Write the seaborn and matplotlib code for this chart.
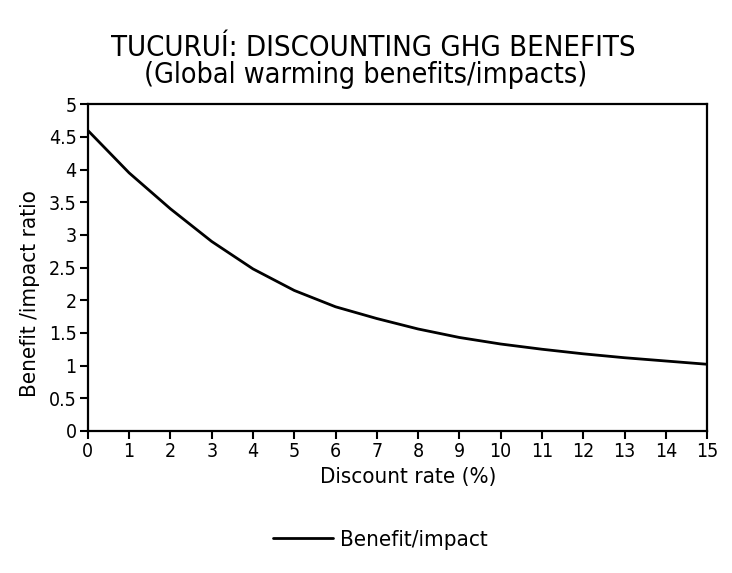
import numpy as np
import pandas as pd
import matplotlib
matplotlib.use('Agg')
import matplotlib.pyplot as plt
import seaborn as sns

# values
discount_rate = [0, 1, 2, 3, 4, 5, 6, 7, 8, 9, 10, 11, 12, 13, 14, 15]
benefit_impact = [4.6, 3.95, 3.4, 2.9, 2.48, 2.15, 1.9, 1.72, 1.56, 1.43,
                  1.33, 1.25, 1.18, 1.12, 1.07, 1.02]
y_ticks = [0, 0.5, 1, 1.5, 2, 2.5, 3, 3.5, 4, 4.5, 5]
y_tick_labels = ['0', '0.5', '1', '1.5', '2', '2.5', '3', '3.5', '4', '4.5', '5']

sns.set_theme(style='ticks')
plt.rcParams['font.family'] = ['DejaVu Sans']
plt.rcParams['font.stretch'] = 'condensed'
plt.rcParams['text.color'] = 'black'

df = pd.DataFrame({'rate': discount_rate, 'ratio': benefit_impact})

fig = plt.figure(figsize=(7.32, 5.73), dpi=100)
ax = fig.add_axes([0.120, 0.248, 0.846, 0.570])

sns.lineplot(data=df, x='rate', y='ratio', color='black', linewidth=2.0,
             label='Benefit/impact', ax=ax)
ax.lines[0].set_solid_joinstyle('round')

ax.set_xlim(0, 15)
ax.set_ylim(0, 5)
ax.set_xticks(discount_rate)
ax.set_yticks(y_ticks)
ax.set_yticklabels(y_tick_labels)
ax.tick_params(axis='both', direction='out', length=6, width=1.5,
               labelsize=14, color='black', labelcolor='black', pad=2)
for s in ax.spines.values():
    s.set_visible(True)
    s.set_linewidth(1.6)
    s.set_color('black')

ax.set_xlabel('Discount rate (%)', fontsize=16, color='black')
ax.xaxis.set_label_coords(0.517, -0.112)
ax.set_ylabel('Benefit /impact ratio', fontsize=16, color='black')
ax.yaxis.set_label_coords(-0.078, 0.42)

fig.text(0.51, 0.916, 'TUCURUÍ: DISCOUNTING GHG BENEFITS', ha='center',
         va='center', fontsize=21, color='black')
fig.text(0.50, 0.869, '(Global warming benefits/impacts)', ha='center',
         va='center', fontsize=20.5, color='black')

ax.get_legend().remove()
h, l = ax.get_legend_handles_labels()
fig.legend(h, l, loc='center', bbox_to_anchor=(0.52, 0.058), frameon=False,
           fontsize=16, handlelength=2.7, handletextpad=0.3)

fig.savefig('out.png', dpi=100, facecolor='white')
